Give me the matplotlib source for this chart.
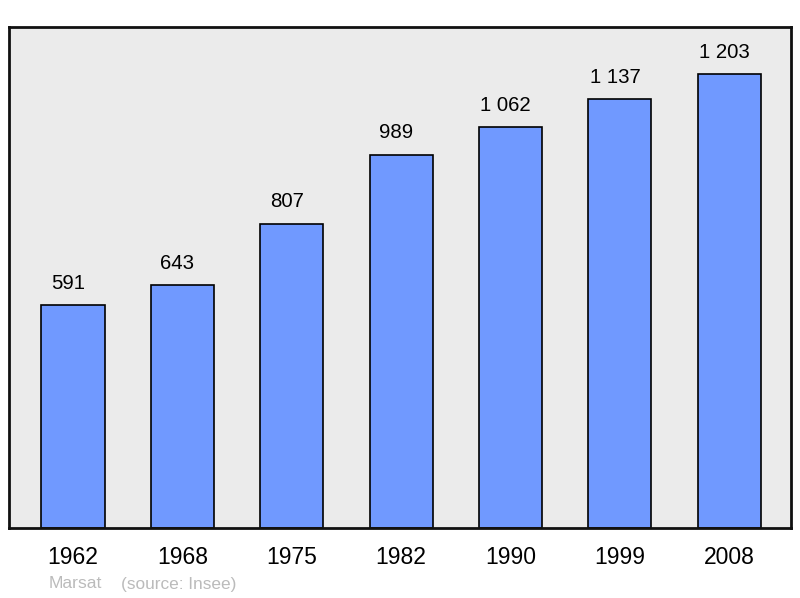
import matplotlib
matplotlib.use("Agg")
import matplotlib.pyplot as plt

years = ["1962", "1968", "1975", "1982", "1990", "1999", "2008"]
population = [591, 643, 807, 989, 1062, 1137, 1203]
value_labels = ["591", "643", "807", "989", "1 062", "1 137", "1 203"]
town = "Marsat"
source = "(source: Insee)"

plt.rcParams['font.family'] = ['Liberation Sans', 'DejaVu Sans']

W, H = 800, 598
fig = plt.figure(figsize=(W / 100, H / 100), dpi=100)
ax = fig.add_axes([9 / W, 1 - 528 / H, 782 / W, 501 / H])
ax.set_facecolor('#ebebeb')

x = list(range(len(years)))
ax.bar(x, population, width=0.577, color='#7099ff', edgecolor='black', linewidth=1.2, zorder=2)
for xi, v, lab in zip(x, population, value_labels):
    ax.text(xi - 0.045, v + 33, lab, ha='center', va='bottom', fontsize=14.7, color='black')

ax.set_xlim(-0.585, 6.565)
ax.set_ylim(0, 1328)
ax.set_xticks(x)
ax.set_xticklabels(years, fontsize=16.5)
ax.tick_params(axis='x', length=0, pad=13)
ax.set_yticks([])
for s in ax.spines.values():
    s.set_linewidth(2)
    s.set_color('#111111')

fig.text(49 / W, 1 - 584 / H, town, fontsize=12.6, color='#bbbbbb', va='center', ha='left')
fig.text(121 / W, 1 - 584 / H, source, fontsize=12.4, color='#bbbbbb', va='center', ha='left')

fig.savefig('out.png', dpi=100)
